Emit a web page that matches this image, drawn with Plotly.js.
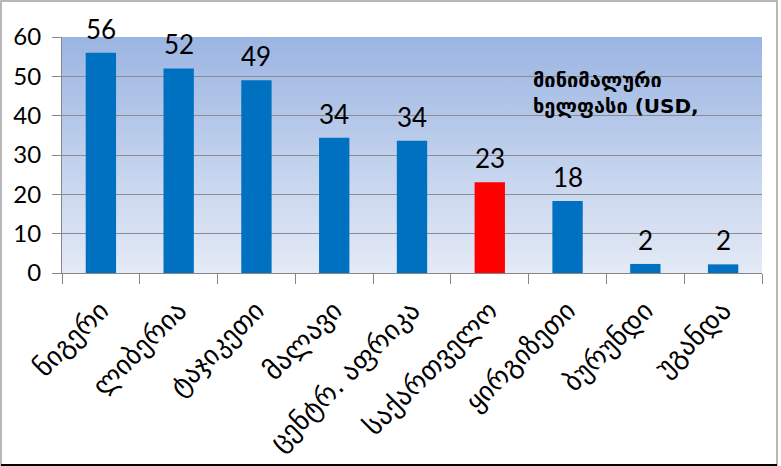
<!DOCTYPE html>
<html>
<head>
<meta charset="utf-8">
<script src="https://cdn.plot.ly/plotly-3.0.1.min.js"></script>
<style>
  html, body { margin: 0; padding: 0; background: #fff; }
  #chart { width: 781px; height: 466px; }
</style>
</head>
<body>
<div id="chart"></div>
<script>
// minimum wage, USD
const countries = ["ნიგერი", "ლიბერია", "ტაჯიკეთი", "მალავი", "ცენტრ. აფრიკა",
  "საქართველო", "ყირგიზეთი", "ბურუნდი", "უგანდა"];
const wages = [56, 52, 49, 34.4, 33.6, 23.1, 18.3, 2.3, 2.2];
const highlight = "საქართველო";
const yTicks = [0, 10, 20, 30, 40, 50, 60];

const BLUE = "#0070C0", RED = "#FF0000";
const georgianFont = "DejaVu Sans, sans-serif",
  numFont = "Lato, Open Sans, sans-serif";

// plot area gradient (white-ish at bottom to light blue on top)
const grad = "data:image/svg+xml;charset=utf-8," + encodeURIComponent(
  '<svg xmlns="http://www.w3.org/2000/svg" width="10" height="100" preserveAspectRatio="none">' +
  '<defs><linearGradient id="g" x1="0" y1="0" x2="0" y2="1">' +
  '<stop offset="0" stop-color="#9BB5E2"/><stop offset="1" stop-color="#E4EAF6"/>' +
  '</linearGradient></defs><rect width="10" height="100" fill="url(#g)"/></svg>');

var trace = {
  type: "bar",
  x: countries,
  y: wages,
  marker: {
    color: countries.map(c => c == highlight ? RED : BLUE),
    line: { width: 0 }
  },
  hoverinfo: "x+y"
};

// value labels above bars
var valueLabels = countries.map((c, i) => ({
  x: c, y: wages[i], xref: "x", yref: "y",
  yanchor: "bottom", yshift: 6,
  showarrow: false,
  text: String(Math.round(wages[i])),
  font: { family: numFont, size: 26, color: "#000" }
}));

// margins: plot area 62..762 x 37..273
var W = 781, H = 466, ml = 62, mr = 19, mt = 37, mb = 193;
var pw = W - ml - mr, ph = H - mt - mb;

var layout = {
  width: W, height: H,
  margin: { l: ml, r: mr, t: mt, b: mb, pad: 0 },
  paper_bgcolor: "#fff",
  plot_bgcolor: "rgba(0,0,0,0)",
  showlegend: false,
  bargap: 0.61,
  xaxis: {
    type: "category",
    tickangle: -45,
    tickfont: { family: georgianFont, size: 27, color: "#000" },
    ticks: "outside", ticklen: 10, tickcolor: "#868686",
    tickson: "boundaries",
    ticklabelstandoff: 10,
    showline: true, linecolor: "#868686", linewidth: 1,
    showgrid: false,
    fixedrange: true
  },
  yaxis: {
    range: [0, 60],
    tickvals: yTicks,
    tickfont: { family: numFont, size: 24, color: "#000" },
    ticks: "outside", ticklen: 9, tickcolor: "#868686",
    ticklabelstandoff: 6,
    showline: true, linecolor: "#868686", linewidth: 1,
    showgrid: true, gridcolor: "#8C8C8C", gridwidth: 1,
    zeroline: false,
    fixedrange: true
  },
  images: [{
    source: grad,
    xref: "paper", yref: "paper",
    x: 0, y: 1, sizex: 1, sizey: 1,
    xanchor: "left", yanchor: "top",
    sizing: "stretch", layer: "below"
  }],
  annotations: valueLabels.concat([{
    xref: "paper", yref: "paper",
    x: (531 - ml) / pw, y: (273 - 66) / ph,
    xanchor: "left", yanchor: "top",
    align: "left",
    showarrow: false,
    text: "<b>მინიმალური<br>ხელფასი (USD,</b>",
    font: { family: georgianFont, size: 20, color: "#000" }
  }]),
  shapes: [{
    type: "rect", xref: "paper", yref: "paper",
    x0: (1 - ml) / pw, x1: (777 - ml) / pw,
    y0: -(465 - 273) / ph, y1: (273 - 1) / ph,
    line: { color: "#A0A0A0", width: 1.5 },
    layer: "below"
  }, {
    type: "line", xref: "paper", yref: "paper",
    x0: (1 - ml) / pw, x1: (777 - ml) / pw,
    y0: -(465 - 273) / ph, y1: -(465 - 273) / ph,
    line: { color: "#000", width: 2 }
  }]
};

Plotly.newPlot("chart", [trace], layout, { displayModeBar: false, staticPlot: true });
</script>
</body>
</html>
